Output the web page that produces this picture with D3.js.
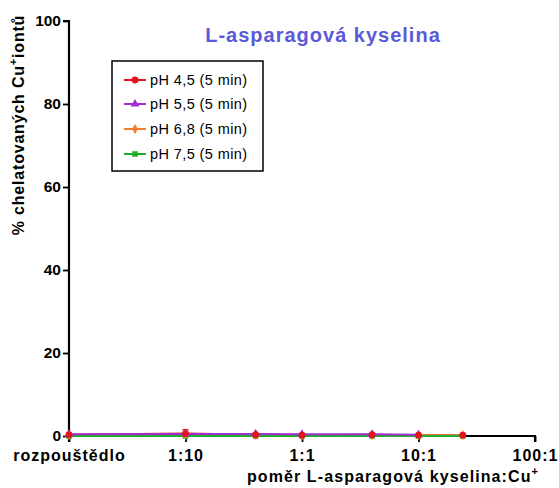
<!DOCTYPE html>
<html>
<head>
<meta charset="utf-8">
<script src="https://cdn.jsdelivr.net/npm/d3@7"></script>
<style>
  html, body { margin: 0; padding: 0; background: #fff; }
  svg { display: block; font-family: Arial, "Liberation Sans", sans-serif; }
</style>
</head>
<body>
<svg id="chart" width="559" height="488"></svg>
<script>
// Molar ratio ligand:Cu+ (0.01 stands in for the solvent-only control)
const ratios = [0.01, 0.1, 0.4, 1, 4, 10, 24];
const xTickValues = [0.01, 0.1, 1, 10, 100];
const xTickLabels = ["rozpouštědlo", "1:10", "1:1", "10:1", "100:1"];
const yTickValues = [0, 20, 40, 60, 80, 100];

const seriesNames = ["pH 4,5 (5 min)", "pH 5,5 (5 min)", "pH 6,8 (5 min)", "pH 7,5 (5 min)"];
const pH45 = [0.3, 0.6, 0.3, 0.2, 0.3, 0.2, 0.2];
const pH55 = [0.4, 0.5, 0.5, 0.4, 0.4, 0.3];
const pH68 = [0.2, 0.3, 0.2, 0.2, 0.2, 0.2, 0.2];
const pH75 = [0.0, 0.0, 0.0, 0.0, 0.0, 0.0, 0.0];
const pH45err = [0.3, 0.9, 0.3, 0.2, 0.2, 0.2, 0.2];

const colors = ["#e2141c", "#a12fd0", "#f08030", "#1fae2a"];
const symbols = [d3.symbolCircle, d3.symbolTriangle, d3.symbolDiamond, d3.symbolSquare];
const symSizes = [36, 34, 30, 30];

const seriesValues = [pH45, pH55, pH68, pH75];
const seriesErr = [pH45err, null, null, null];

const svg = d3.select("#chart");

const x = d3.scaleLog().domain([0.01, 100]).range([69, 535]);
const y = d3.scaleLinear().domain([0, 100]).range([436, 21]);

// Y axis
const yAxis = svg.append("g")
  .attr("transform", `translate(${x(0.01)},0)`)
  .call(d3.axisLeft(y).tickValues(yTickValues).tickSize(6).tickPadding(2).tickFormat(d3.format("d")));
yAxis.select(".domain").attr("stroke", "#000").attr("stroke-width", 2.2).attr("d", `M-6,${y(100)}H0V${y(0) + 6}`);
yAxis.selectAll(".tick line").attr("stroke", "#000").attr("stroke-width", 1.8);
yAxis.selectAll(".tick text").attr("font-size", 15.5).attr("font-weight", "bold").attr("fill", "#000")
  .attr("font-family", "Arial, 'Liberation Sans', sans-serif");

// X axis
const xAxis = svg.append("g")
  .attr("transform", `translate(0,${y(0)})`)
  .call(d3.axisBottom(x).tickValues(xTickValues).tickSize(6).tickPadding(8)
    .tickFormat((d, i) => xTickLabels[i]));
xAxis.select(".domain").attr("stroke", "#000").attr("stroke-width", 2.2).attr("d", `M${x(0.01)},0H${x(100)}V6`);
xAxis.selectAll(".tick line").attr("stroke", "#000").attr("stroke-width", 1.8);
xAxis.selectAll(".tick text").attr("font-size", 16).attr("font-weight", "bold").attr("fill", "#000")
  .attr("letter-spacing", 1)
  .attr("font-family", "Arial, 'Liberation Sans', sans-serif");

// Series lines
const line = d3.line().x((d, i) => x(ratios[i])).y(d => y(d));
const order = [0, 2, 3, 1];
order.forEach(s => {
  svg.append("path")
    .datum(seriesValues[s])
    .attr("fill", "none")
    .attr("stroke", colors[s])
    .attr("stroke-width", 2)
    .attr("d", line);
});

// Error bars
seriesErr.forEach((err, s) => {
  if (!err) return;
  const g = svg.append("g").attr("stroke", colors[s]).attr("stroke-width", 1.5);
  seriesValues[s].forEach((v, i) => {
    const cx = x(ratios[i]);
    g.append("line").attr("x1", cx).attr("x2", cx).attr("y1", y(Math.max(0, v - err[i]))).attr("y2", y(v + err[i]));
    g.append("line").attr("x1", cx - 3).attr("x2", cx + 3).attr("y1", y(v + err[i])).attr("y2", y(v + err[i]));
  });
});

// Markers
[3, 2, 1, 0].forEach(s => {
  svg.append("g").selectAll("path")
    .data(seriesValues[s])
    .join("path")
    .attr("transform", (d, i) => `translate(${x(ratios[i])},${y(d)})`)
    .attr("d", d3.symbol().type(symbols[s]).size(symSizes[s]))
    .attr("fill", colors[s]);
});

// Title
svg.append("text")
  .attr("x", 323).attr("y", 42)
  .attr("text-anchor", "middle")
  .attr("font-size", 20).attr("font-weight", "bold")
  .attr("letter-spacing", 1)
  .attr("fill", "#5a5ad8")
  .text("L-asparagová kyselina");

// X axis title
const xt = svg.append("text")
  .attr("x", 393).attr("y", 482)
  .attr("text-anchor", "middle")
  .attr("font-size", 16).attr("font-weight", "bold").attr("fill", "#000")
  .attr("letter-spacing", 1.1);
xt.append("tspan").text("poměr L-asparagová kyselina:Cu");
xt.append("tspan").attr("dy", -7).attr("font-size", 11).text("+");

// Y axis title
const yt = svg.append("text")
  .attr("transform", "translate(24,125) rotate(-90)")
  .attr("text-anchor", "middle")
  .attr("font-size", 16).attr("font-weight", "bold").attr("fill", "#000")
  .attr("letter-spacing", 0.8);
yt.append("tspan").text("% chelatovaných Cu");
yt.append("tspan").attr("dy", -7).attr("font-size", 11).text("+");
yt.append("tspan").attr("dy", 7).text("iontů");

// Legend
const legend = svg.append("g");
legend.append("rect")
  .attr("x", 112).attr("y", 61).attr("width", 151).attr("height", 110)
  .attr("fill", "#fff").attr("stroke", "#000").attr("stroke-width", 1.5);
const legendY = [80, 104, 129, 154];
seriesNames.forEach((name, s) => {
  const gy = legendY[s];
  legend.append("line")
    .attr("x1", 124).attr("x2", 146).attr("y1", gy).attr("y2", gy)
    .attr("stroke", colors[s]).attr("stroke-width", 2);
  legend.append("path")
    .attr("transform", `translate(135,${gy})`)
    .attr("d", d3.symbol().type(symbols[s]).size(symSizes[s]))
    .attr("fill", colors[s]);
  legend.append("text")
    .attr("x", 150).attr("y", gy + 5)
    .attr("font-size", 14.5).attr("fill", "#000")
    .attr("letter-spacing", 0.4)
    .text(name);
});
</script>
</body>
</html>
